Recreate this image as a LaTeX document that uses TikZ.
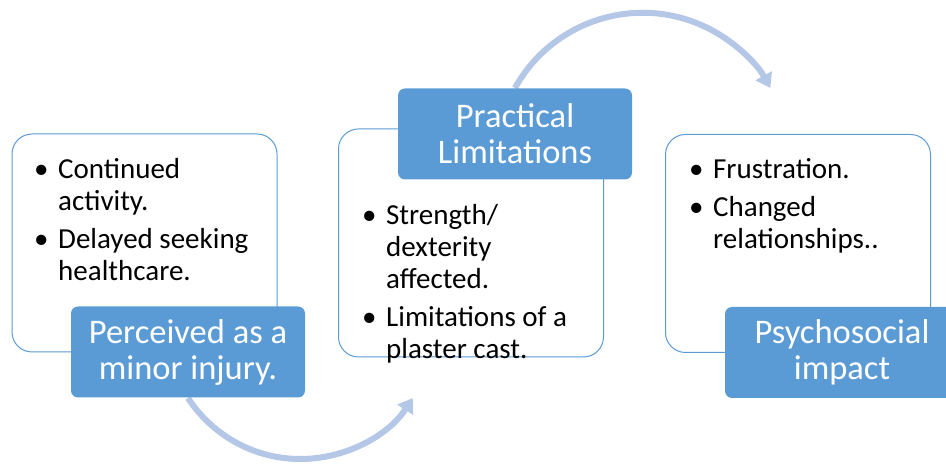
\documentclass[tikz,border=0pt]{standalone}
\usepackage{fontspec}
\setmainfont{Carlito}
\usetikzlibrary{arrows.meta}
\definecolor{headblue}{HTML}{5B9BD5}
\definecolor{arcblue}{HTML}{B4C7E7}
\begin{document}
\begin{tikzpicture}[x=1pt,y=1pt]
        \tikzstyle{panel}=[draw=headblue, line width=1pt, fill=white, rounded corners=20pt, minimum width=265pt, minimum height=218pt, inner sep=0pt]
        \tikzstyle{head}=[fill=headblue, text=white, rounded corners=7pt, minimum width=234pt, minimum height=91pt, align=center, inner sep=0pt, font=\fontsize{34.5}{36}\selectfont]
        \tikzstyle{points}=[anchor=north west, inner sep=0pt, font=\fontsize{29}{32}\selectfont]
        \tikzstyle{flow}=[draw=arcblue, line width=6pt, -{Triangle[width=18pt,length=14pt]}]
        \useasboundingbox (0,0) rectangle (946,468);
        \clip (0,0) rectangle (946,468);
        % the three panels
        \node[panel] (injury) at (144.5,225) {};
        \node[panel, minimum height=228pt] (limits) at (471,225) {};
        \node[panel] (impact) at (798,224.5) {};
        % bullet points
        \node[points] (injurytxt) at (34,312.4) {\begin{tabular}{@{}p{24pt}@{}l@{}}•&Continued\\&activity.\\[6pt]•&Delayed seeking\\&healthcare.\end{tabular}};
        \node[points] (limitstxt) at (362,266.4) {\begin{tabular}{@{}p{24pt}@{}l@{}}•&Strength/\\&dexterity\\&affected.\\[6pt]•&Limitations of a\\&plaster cast.\end{tabular}};
        \node[points] (impacttxt) at (689,312.4) {\begin{tabular}{@{}p{24pt}@{}l@{}}•&Frustration.\\[6pt]•&Changed\\&relationships..\end{tabular}};
        % arcs between the stages
        \draw[flow] (188,70) coordinate (injurybot) arc[start angle=213, end angle=327, radius=134] coordinate (arcend1);
        \draw[flow] (515,380) coordinate (limitstop) arc[start angle=151, end angle=29, radius=146] coordinate (arcend2);
        % headings
        \node[head] (injuryhead) at (188,116) {Perceived as a\\minor injury.};
        \node[head] (limitshead) at (515,334) {Practical\\Limitations};
        \node[head] (impacthead) at (842,115.5) {Psychosocial\\impact};
\end{tikzpicture}
\end{document}
